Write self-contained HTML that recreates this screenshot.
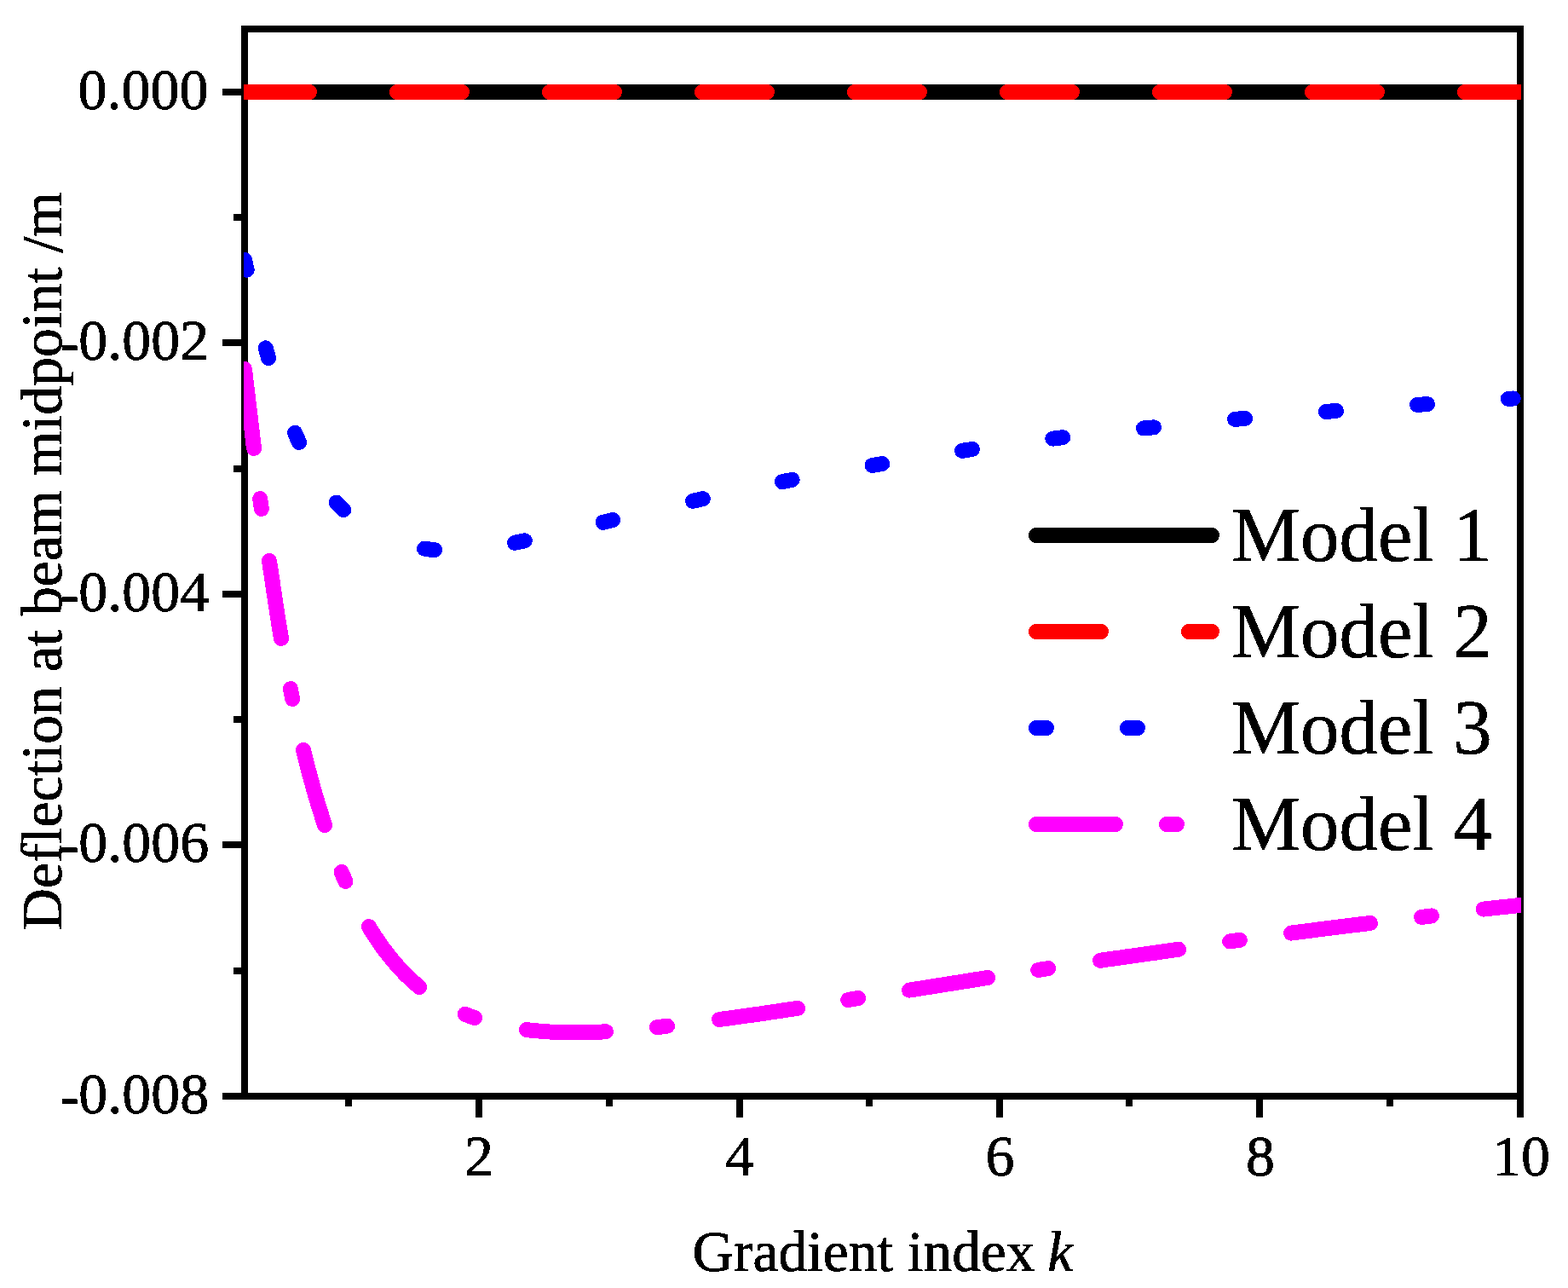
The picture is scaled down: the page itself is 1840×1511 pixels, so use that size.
<!DOCTYPE html>
<html lang="en"><head><meta charset="utf-8"><title>Deflection at beam midpoint vs gradient index k</title>
<style>
html,body{margin:0;padding:0;background:#fff;}
body{width:1840px;height:1511px;overflow:hidden;}
svg{display:block;}
text{font-family:"Liberation Serif","Times New Roman",serif;fill:#000;stroke:#000;stroke-width:0.8;stroke-linejoin:round;}
.t{font-size:68px;}
.l{font-size:91px;stroke-width:0.6;}
.d{fill:none;stroke-width:18;stroke-linecap:round;stroke-linejoin:round;shape-rendering:crispEdges;}
</style></head><body>
<svg width="1840" height="1511" viewBox="0 0 1840 1511">
<rect width="1840" height="1511" fill="#fff"/>
<defs><clipPath id="c"><rect x="286" y="34" width="1499" height="1252"/></clipPath>
<filter id="bw" filterUnits="userSpaceOnUse" x="0" y="0" width="1840" height="1511" color-interpolation-filters="sRGB"><feComponentTransfer><feFuncA type="discrete" tableValues="0 1"/></feComponentTransfer></filter></defs>
<g fill="#000" shape-rendering="crispEdges">
<rect x="283" y="30" width="1505" height="8"/>
<rect x="283" y="1282" width="1505" height="8"/>
<rect x="283" y="30" width="8" height="1260"/>
<rect x="1780" y="30" width="8" height="1260"/>
<rect x="261" y="104" width="24" height="8"/>
<rect x="261" y="398" width="24" height="8"/>
<rect x="261" y="693" width="24" height="8"/>
<rect x="261" y="987" width="24" height="8"/>
<rect x="261" y="1282" width="24" height="8"/>
<rect x="274" y="251" width="11" height="8"/>
<rect x="274" y="546" width="11" height="8"/>
<rect x="274" y="840" width="11" height="8"/>
<rect x="274" y="1135" width="11" height="8"/>
<rect x="558" y="1288" width="8" height="23"/>
<rect x="864" y="1288" width="8" height="23"/>
<rect x="1169" y="1288" width="8" height="23"/>
<rect x="1474" y="1288" width="8" height="23"/>
<rect x="1780" y="1288" width="8" height="23"/>
<rect x="405" y="1288" width="8" height="10"/>
<rect x="711" y="1288" width="8" height="10"/>
<rect x="1016" y="1288" width="8" height="10"/>
<rect x="1321" y="1288" width="8" height="10"/>
<rect x="1627" y="1288" width="8" height="10"/>
</g>
<g clip-path="url(#c)" class="d">
<path stroke="#000" stroke-linecap="butt" d="M280 108 L1790 108"/>
<path stroke="#f00" d="M287 108 L363 108 M466 108 L542 108 M645 108 L721 108 M824 108 L900 108 M1003 108 L1079 108 M1182 108 L1258 108 M1361 108 L1437 108 M1540 108 L1616 108 M1719 108 L1794 108"/>
<path stroke="#00f" d="M287.0 305.0 L288.3 310.9 L289.6 316.7 M311.8 408.4 L313.4 414.2 L315.0 420.0 M346.1 507.8 L348.5 513.4 L351.0 518.9 M394.7 589.6 L398.9 593.9 L403.2 598.1 M498.0 643.6 L504.0 644.5 L510.0 645.2 M604.0 636.8 L609.9 635.6 L615.8 634.3 M707.6 612.8 L713.4 611.4 L719.2 610.0 M813.0 587.8 L818.9 586.5 L824.8 585.2 M917.8 565.2 L923.7 564.0 L929.6 562.9 M1023.5 546.0 L1029.4 545.0 L1035.3 544.0 M1129.1 528.8 L1135.0 527.9 L1140.9 527.0 M1235.3 514.6 L1241.2 513.9 L1247.2 513.2 M1342.0 502.5 L1348.0 501.9 L1354.0 501.3 M1449.1 491.9 L1455.1 491.4 L1461.1 490.9 M1556.0 483.0 L1562.0 482.5 L1568.0 482.0 M1663.0 474.9 L1669.0 474.5 L1675.0 474.1 M1769.8 467.9 L1772.8 467.7 L1775.8 467.5"/>
<path stroke="#f0f" d="M287.0 433.0 L287.5 437.0 L288.0 441.1 L288.4 445.1 L288.9 449.2 L289.4 453.2 L289.9 457.3 L290.4 461.3 L290.8 465.3 L291.3 469.4 L291.8 473.4 L292.3 477.5 L292.8 481.5 L293.2 485.6 L293.7 489.6 L294.2 493.6 L294.7 497.7 L295.2 501.7 L295.6 505.8 L296.1 509.8 L296.6 513.9 L297.1 517.9 L297.5 522.0 L298.0 526.0 M305.2 585.1 L306.0 591.0 L306.8 596.9 M316.0 658.0 L316.6 662.0 L317.2 665.9 L317.8 669.9 L318.4 673.8 L319.0 677.8 L319.6 681.8 L320.1 685.7 L320.7 689.7 L321.3 693.6 L321.9 697.6 L322.5 701.6 L323.1 705.5 L323.7 709.5 L324.3 713.4 L324.9 717.4 L325.5 721.3 L326.1 725.3 L326.8 729.2 L327.4 733.2 L328.0 737.2 L328.7 741.1 L329.3 745.1 L330.0 749.0 M340.9 808.1 L342.0 814.0 L343.2 819.9 M356.0 880.0 L357.0 884.0 L358.0 888.1 L359.0 892.1 L360.0 896.1 L361.0 900.2 L362.1 904.2 L363.2 908.2 L364.3 912.2 L365.4 916.2 L366.5 920.2 L367.6 924.2 L368.8 928.2 L369.9 932.2 L371.1 936.2 L372.3 940.2 L373.5 944.2 L374.7 948.2 L376.0 952.1 L377.2 956.1 L378.5 960.1 L379.7 964.0 L381.0 968.0 M400.7 1023.0 L403.0 1028.5 L405.4 1034.0 M432.8 1087.0 L434.9 1090.4 L437.0 1093.9 L439.2 1097.3 L441.5 1100.7 L443.7 1104.0 L446.1 1107.4 L448.4 1110.7 L450.8 1113.9 L453.3 1117.2 L455.7 1120.4 L458.3 1123.6 L460.8 1126.7 L463.5 1129.8 L466.1 1132.8 L468.8 1135.8 L471.6 1138.8 L474.4 1141.7 L477.2 1144.5 L480.1 1147.3 L483.1 1150.1 L486.1 1152.8 L489.1 1155.4 L492.2 1158.0 M545.8 1189.8 L551.4 1192.0 L557.0 1194.1 M617.8 1208.0 L621.8 1208.5 L625.8 1208.9 L629.9 1209.3 L633.9 1209.7 L638.0 1210.0 L642.0 1210.3 L646.1 1210.6 L650.1 1210.8 L654.2 1211.0 L658.2 1211.1 L662.3 1211.2 L666.3 1211.3 L670.4 1211.3 L674.5 1211.3 L678.5 1211.3 L682.6 1211.3 L686.7 1211.2 L690.7 1211.1 L694.8 1211.0 L698.8 1210.8 L702.9 1210.7 L706.9 1210.5 L711.0 1210.2 M771.0 1205.1 L777.0 1204.4 L783.0 1203.7 M844.0 1196.0 L848.0 1195.5 L852.0 1194.9 L856.0 1194.4 L860.0 1193.8 L864.0 1193.3 L868.0 1192.7 L872.0 1192.2 L876.0 1191.6 L880.0 1191.1 L884.0 1190.5 L888.0 1189.9 L892.0 1189.4 L896.0 1188.8 L900.0 1188.2 L904.0 1187.6 L908.0 1187.0 L912.0 1186.4 L916.0 1185.8 L920.0 1185.2 L924.0 1184.6 L928.0 1184.0 L932.0 1183.4 L936.0 1182.8 M995.3 1173.0 L1001.2 1172.0 L1007.2 1171.0 M1067.0 1161.6 L1071.0 1161.0 L1075.0 1160.3 L1079.0 1159.7 L1083.0 1159.1 L1087.1 1158.4 L1091.1 1157.8 L1095.1 1157.2 L1099.1 1156.5 L1103.1 1155.9 L1107.1 1155.2 L1111.1 1154.6 L1115.1 1154.0 L1119.1 1153.3 L1123.1 1152.7 L1127.2 1152.1 L1131.2 1151.4 L1135.2 1150.8 L1139.2 1150.1 L1143.2 1149.5 L1147.2 1148.9 L1151.2 1148.3 L1155.2 1147.6 L1159.2 1147.0 M1218.3 1137.9 L1224.2 1137.0 L1230.2 1136.1 M1291.0 1126.8 L1295.0 1126.2 L1299.0 1125.6 L1303.0 1125.1 L1307.0 1124.5 L1311.0 1123.9 L1315.0 1123.4 L1319.0 1122.8 L1323.0 1122.2 L1327.0 1121.7 L1331.0 1121.1 L1335.0 1120.6 L1339.0 1120.0 L1343.0 1119.4 L1347.0 1118.9 L1351.0 1118.3 L1355.0 1117.8 L1359.0 1117.2 L1363.0 1116.6 L1367.0 1116.0 L1371.0 1115.5 L1375.0 1114.9 L1379.0 1114.3 L1383.0 1113.7 M1443.1 1104.5 L1449.0 1103.6 L1454.9 1102.7 M1515.0 1094.6 L1519.0 1094.1 L1523.1 1093.6 L1527.1 1093.0 L1531.2 1092.5 L1535.2 1092.0 L1539.2 1091.5 L1543.3 1091.0 L1547.3 1090.4 L1551.4 1089.9 L1555.4 1089.4 L1559.5 1088.9 L1563.5 1088.4 L1567.5 1087.9 L1571.6 1087.4 L1575.6 1086.9 L1579.7 1086.4 L1583.7 1085.9 L1587.8 1085.4 L1591.8 1084.9 L1595.9 1084.4 L1599.9 1084.0 L1604.0 1083.5 L1608.0 1083.0 M1668.0 1075.9 L1674.0 1075.2 L1680.0 1074.4 M1740.8 1066.6 L1745.0 1066.1 L1749.2 1065.6 L1753.5 1065.2 L1757.7 1064.7 L1761.9 1064.2 L1766.2 1063.8 L1770.4 1063.4 L1774.6 1062.9 L1778.8 1062.5 L1783.1 1062.1 L1787.3 1061.6 L1791.5 1061.2 L1795.8 1060.8 L1800.0 1060.4"/>
</g>
<g class="d">
<path stroke="#000" d="M1216 628 L1422 628"/>
<path stroke="#f00" d="M1216 741 L1292 741 M1395 741 L1422 741"/>
<path stroke="#00f" d="M1216 854 L1228 854 M1323 854 L1335 854"/>
<path stroke="#f0f" d="M1216 967 L1309 967 M1369 967 L1381 967"/>
</g>
<g filter="url(#bw)">
<text class="l" x="1445" y="657.5">Model 1</text>
<text class="l" x="1445" y="770.5">Model 2</text>
<text class="l" x="1445" y="883.5">Model 3</text>
<text class="l" x="1445" y="996.5">Model 4</text>
<text class="t" text-anchor="end" x="244.5" y="128">0.000</text>
<text class="t" text-anchor="end" x="244.5" y="422" dx="0.8 -0.8" dy="1.5 -1.5">-0.002</text>
<text class="t" text-anchor="end" x="244.5" y="717" dx="0.8 -0.8" dy="1.5 -1.5">-0.004</text>
<text class="t" text-anchor="end" x="244.5" y="1011" dx="0.8 -0.8" dy="1.5 -1.5">-0.006</text>
<text class="t" text-anchor="end" x="244.5" y="1306" dx="0.8 -0.8" dy="1.5 -1.5">-0.008</text>
<text class="t" text-anchor="middle" x="562" y="1379">2</text>
<text class="t" text-anchor="middle" x="868" y="1379">4</text>
<text class="t" text-anchor="middle" x="1173.5" y="1379">6</text>
<text class="t" text-anchor="middle" x="1479" y="1379">8</text>
<text class="t" text-anchor="middle" x="1785" y="1379">10</text>
<text class="t" style="font-size:67.3px" x="812.6" y="1491">Gradient index <tspan font-style="italic" dx="-1.9">k</tspan></text>
<text class="t" style="font-size:67.8px" text-anchor="middle" transform="translate(72 658.2) rotate(-90)">Deflection at beam midpoint /m</text>
</g>
</svg>
</body></html>
